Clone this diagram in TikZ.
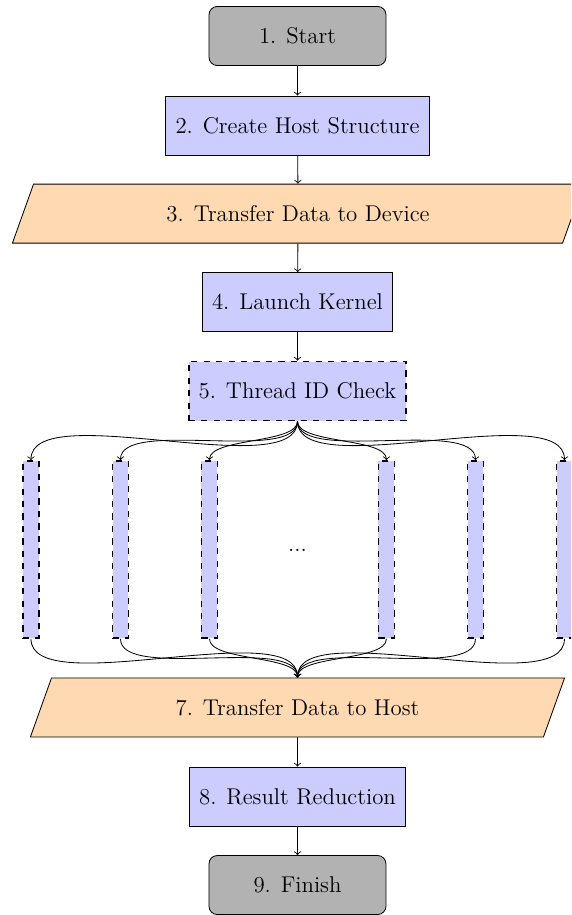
\documentclass[tikz,border=0pt]{standalone}
\usetikzlibrary{shapes.geometric}
\begin{document}
\begin{tikzpicture}[
  >=to,
  every node/.style={font=\fontsize{11}{13.6}\selectfont},
  terminal/.style={draw, rounded corners=4pt, fill=black!30, minimum width=3cm, minimum height=1cm},
  process/.style={draw, fill=blue!20, minimum height=1cm, inner xsep=4.8pt},
  check/.style={draw, thick, dashed, fill=blue!20, minimum height=1cm, inner xsep=4.8pt},
  iobox/.style={draw, fill=orange!30, trapezium, trapezium left angle=70, trapezium right angle=110,
                trapezium stretches=true, minimum height=1cm},
  thread/.style={draw, thick, dashed, fill=blue!20, minimum width=0.27cm, minimum height=3cm, inner sep=0pt},
  link/.style={->},
  fan/.style={->, out=-90, in=90, looseness=0.6}
]
\useasboundingbox (-5.042,0) rectangle (4.636,-15.508);
\clip (-5.042,0) rectangle (4.636,-15.508);

% main chain
\node[terminal] (n1) at (0,-0.61) {1. Start};
\node[process]  (n2) at (0,-2.127) {2. Create Host Structure};
\node[iobox, minimum width=9.69cm] (n3) at (0.01,-3.62) {3. Transfer Data to Device};
\node[process]  (n4) at (0,-5.12) {4. Launch Kernel};
\node[check]    (n5) at (0,-6.627) {5. Thread ID Check};

% threads
\foreach \i/\x in {1/-4.517, 2/-3.0, 3/-1.492, 4/1.508, 5/3.017, 6/4.525} {
  \node[thread] (t\i) at (\x,-9.313) {};
}
\node (dots) at (0,-9.33) {...};

\node[iobox, minimum width=9.07cm] (n7) at (0,-11.99) {7. Transfer Data to Host};
\node[process]  (n8) at (0,-13.5) {8. Result Reduction};
\node[terminal] (n9) at (0,-15.0) {9. Finish};

% connectors
\draw[link] (n1) -- (n2);
\draw[link] (n2) -- (n3);
\draw[link] (n3) -- (n4);
\draw[link] (n4) -- (n5);
\foreach \i in {1,...,6} {
  \draw[fan] (n5.south) to (t\i.north);
  \draw[fan] (t\i.south) to (n7.north);
}
\draw[link] (n7) -- (n8);
\draw[link] (n8) -- (n9);
\end{tikzpicture}
\end{document}
